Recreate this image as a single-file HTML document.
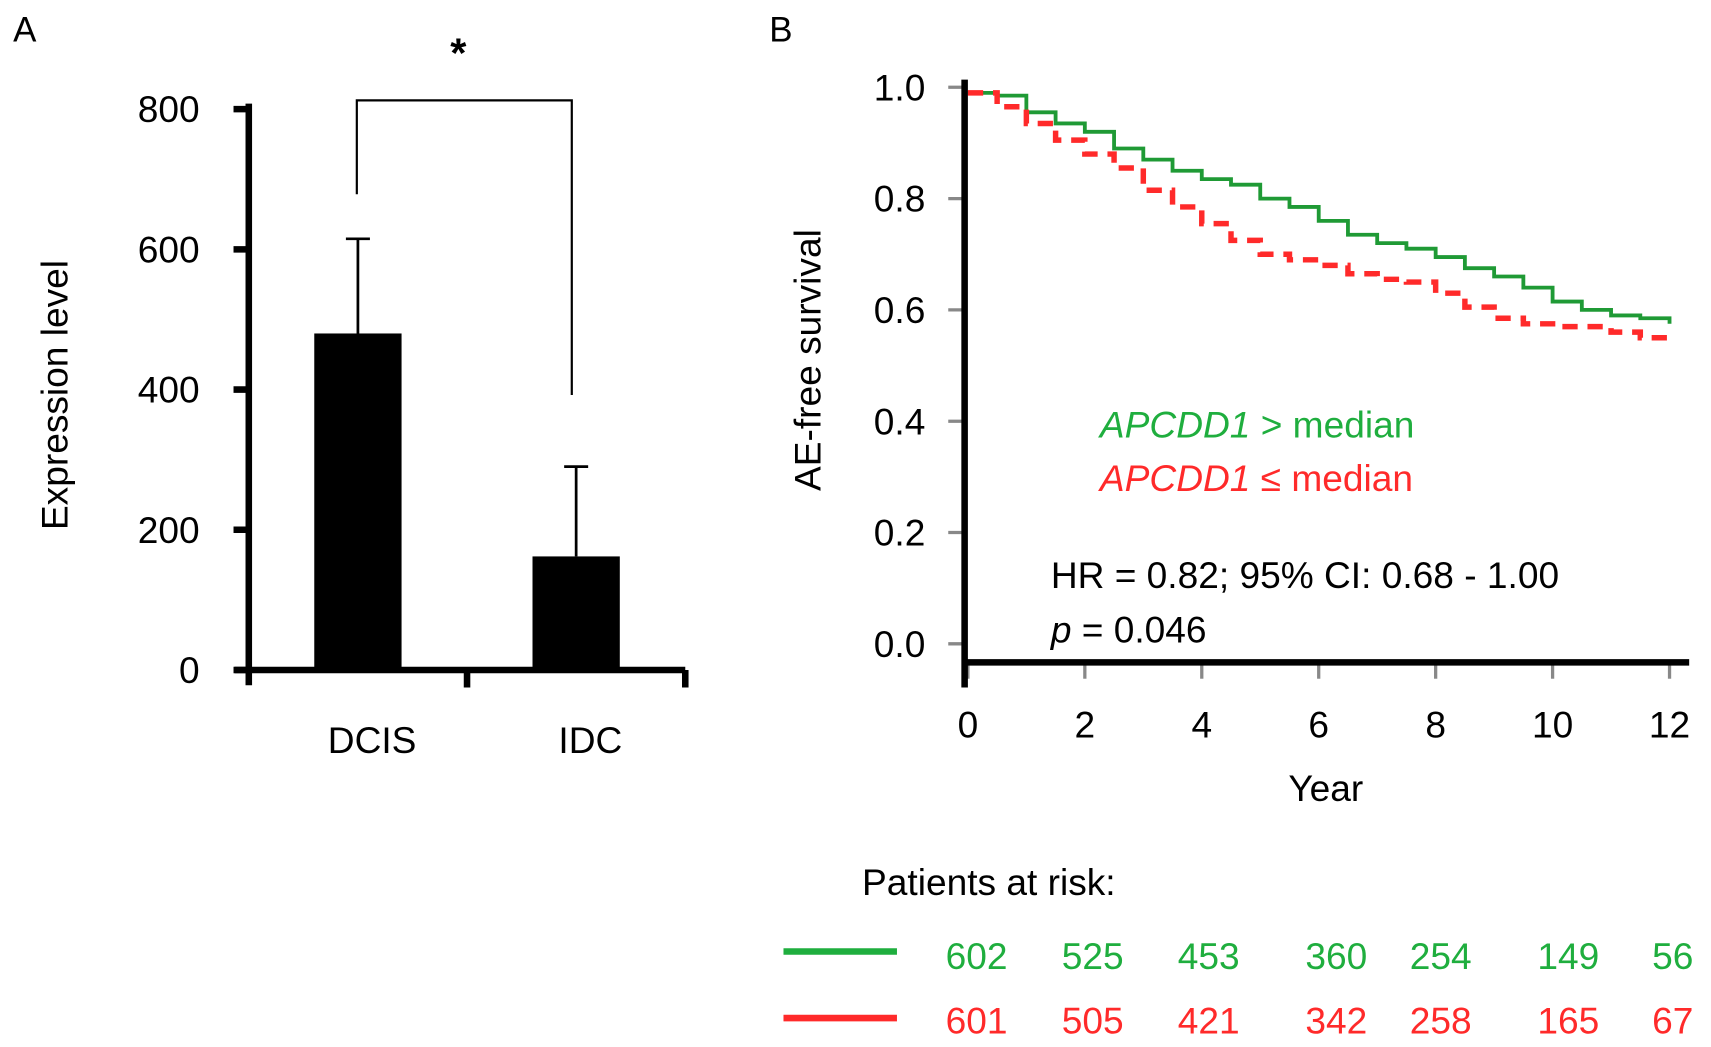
<!DOCTYPE html>
<html><head><meta charset="utf-8"><style>
body{margin:0;background:#fff}
svg{display:block}
svg text{font-family:"Liberation Sans",Arial,sans-serif}
</style></head><body>
<svg id="fig" width="1711" height="1047" viewBox="0 0 1568 959.5" preserveAspectRatio="none" xmlns="http://www.w3.org/2000/svg">
<text x="12" y="38" font-size="32">A</text>
<text x="705" y="38" font-size="32">B</text>
<g id="pa"></g>
<g id="pb"></g>
</svg>
<script>
const barCats=["DCIS","IDC"];
const barVals=[480,162];
const barErr=[615,290];
const yTicksA=[0,200,400,600,800];
const kmX=[0,0.5,1,1.5,2,2.5,3,3.5,4,4.5,5,5.5,6,6.5,7,7.5,8,8.5,9,9.5,10,10.5,11,11.5,12];
const kmGreen=[0.99,0.985,0.955,0.935,0.92,0.89,0.87,0.85,0.835,0.825,0.80,0.785,0.76,0.735,0.72,0.71,0.695,0.675,0.66,0.64,0.615,0.6,0.59,0.585,0.575];
const kmRed=[0.99,0.965,0.935,0.905,0.88,0.855,0.815,0.785,0.755,0.725,0.70,0.69,0.68,0.665,0.655,0.65,0.63,0.605,0.585,0.575,0.57,0.57,0.56,0.55,0.555];
const yTicksB=[0,0.2,0.4,0.6,0.8,1.0];
const xTicksB=[0,2,4,6,8,10,12];
const riskGreen=[602,525,453,360,254,149,56];
const riskRed=[601,505,421,342,258,165,67];
const riskX=[0,2,4,6.2,8,10.2,12];
const NS="http://www.w3.org/2000/svg";
function mk(p,t,a,txt){const e=document.createElementNS(NS,t);for(const k in a)e.setAttribute(k,a[k]);if(txt!==undefined)e.textContent=txt;p.appendChild(e);return e;}
// Panel A
const pa=document.getElementById('pa');
const yA=v=>614-v*(514/800);
const xA=i=>328+i*200;
yTicksA.forEach(v=>{const t=mk(pa,'line',{x1:214,x2:230,y1:yA(v),y2:yA(v),stroke:'#000','stroke-width':6});

const l=mk(pa,'text',{x:183,y:yA(v)+12,'font-size':34,'text-anchor':'end'},v);
});
barCats.forEach((c,i)=>{const b=mk(pa,'rect',{x:xA(i)-40,y:yA(barVals[i]),width:80,height:yA(0)-yA(barVals[i]),fill:'#000'});

const e=mk(pa,'path',{d:`M${xA(i)},${yA(barVals[i])}V${yA(barErr[i])}M${xA(i)-11},${yA(barErr[i])}H${xA(i)+11}`,stroke:'#000','stroke-width':2.5,fill:'none'});

const l=mk(pa,'text',{x:xA(i)+13,y:690,'font-size':34,'text-anchor':'middle'},c);
});
const axA=mk(pa,'path',{d:'M228,95V628M215,614H628M428,614V630M628,614V630',stroke:'#000','stroke-width':6,fill:'none'});

const br=mk(pa,'path',{d:'M327,178V92H524V362',stroke:'#000','stroke-width':2,fill:'none'});

const st=mk(pa,'text',{x:420,y:62,'font-size':38,'text-anchor':'middle','font-weight':'bold'},'*');

const ytA=mk(pa,'text',{x:0,y:0,'font-size':34,'text-anchor':'middle',transform:'translate(62,362) rotate(-90)'},'Expression level');

// Panel B
const pb=document.getElementById('pb');
const xB=v=>887+v*(643/12);
const yB=v=>590-v*510;
yTicksB.forEach(v=>{const t=mk(pb,'line',{x1:869,x2:884,y1:yB(v),y2:yB(v),stroke:'#888','stroke-width':3});

const l=mk(pb,'text',{x:848,y:yB(v)+12,'font-size':34,'text-anchor':'end'},v.toFixed(1));
});
xTicksB.forEach(v=>{const t=mk(pb,'line',{x1:xB(v),x2:xB(v),y1:607,y2:622,stroke:'#888','stroke-width':3});

const l=mk(pb,'text',{x:xB(v),y:676,'font-size':34,'text-anchor':'middle'},v);
});
function stepPath(ys){let d=`M${xB(kmX[0])},${yB(ys[0])}`;for(let i=1;i<kmX.length;i++){d+=`H${xB(kmX[i])}V${yB(ys[i])}`;}return d;}
const gl=mk(pb,'path',{d:stepPath(kmGreen),stroke:'#1f9a35','stroke-width':3.5,fill:'none'});

const rl=mk(pb,'path',{d:stepPath(kmRed),stroke:'#ff2a2a','stroke-width':5,fill:'none','stroke-dasharray':'14 9'});

const axB=mk(pb,'path',{d:'M884,73V630M881,607H1548',stroke:'#000','stroke-width':6,fill:'none'});

const ytB=mk(pb,'text',{x:0,y:0,'font-size':34,'text-anchor':'middle',transform:'translate(752,330) rotate(-90)'},'AE-free survival');

const xtB=mk(pb,'text',{x:1215,y:734,'font-size':34,'text-anchor':'middle'},'Year');

const lg1=mk(pb,'text',{x:1008,y:401,'font-size':34,fill:'#1fae3e'});lg1.innerHTML='<tspan font-style="italic">APCDD1</tspan> &gt; median';

const lg2=mk(pb,'text',{x:1008,y:450,'font-size':34,fill:'#ff2a2a'});lg2.innerHTML='<tspan font-style="italic">APCDD1</tspan> ≤ median';

const hr=mk(pb,'text',{x:963,y:539,'font-size':34},'HR = 0.82; 95% CI: 0.68 - 1.00');

const pv=mk(pb,'text',{x:963,y:589,'font-size':34});pv.innerHTML='<tspan font-style="italic">p</tspan> = 0.046';

const par=mk(pb,'text',{x:790,y:820,'font-size':34},'Patients at risk:');

const ll1=mk(pb,'line',{x1:718,x2:822,y1:872,y2:872,stroke:'#1fae3e','stroke-width':6});

const ll2=mk(pb,'line',{x1:718,x2:822,y1:933,y2:933,stroke:'#ff2a2a','stroke-width':6});

const rxp=v=>895+v*(638/12);
riskGreen.forEach((n,i)=>{const t=mk(pb,'text',{x:rxp(riskX[i]),y:888,'font-size':34,'text-anchor':'middle',fill:'#1fae3e'},n);
});
riskRed.forEach((n,i)=>{const t=mk(pb,'text',{x:rxp(riskX[i]),y:947,'font-size':34,'text-anchor':'middle',fill:'#ff2a2a'},n);
});
</script>
</body></html>
